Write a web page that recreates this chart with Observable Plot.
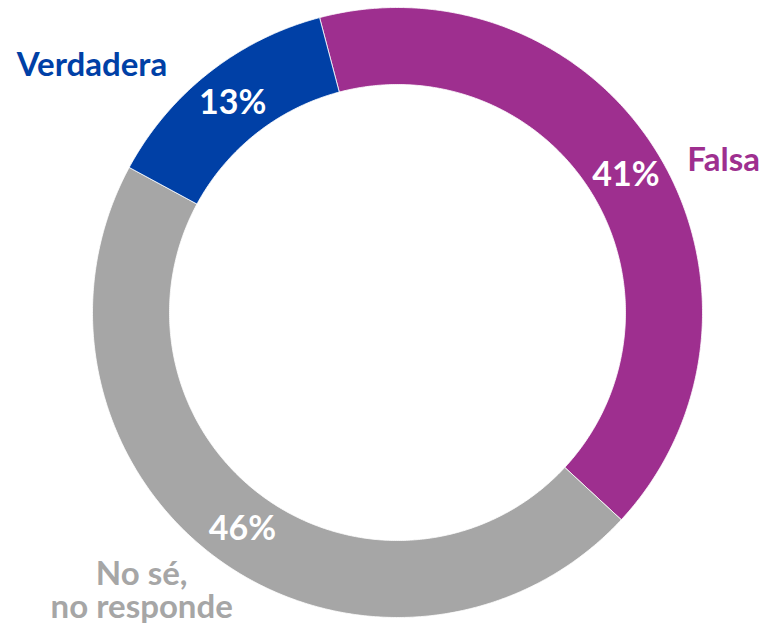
<!DOCTYPE html>
<html>
<head>
<meta charset="utf-8">
<script src="https://cdn.jsdelivr.net/npm/d3@7"></script>
<script src="https://cdn.jsdelivr.net/npm/@observablehq/plot@0.6"></script>
<style>
  html, body { margin: 0; padding: 0; background: #fff; }
  #chart svg { display: block; }
</style>
</head>
<body>
<div id="chart"></div>
<script>
// ---- data ----
const categories = ["Falsa", "No sé,\nno responde", "Verdadera"];
const values = [41, 46, 13];
const colors = ["#9E2F8F", "#A6A6A6", "#0040A6"];
const pctLabels = ["41%", "46%", "13%"];

// ---- layout (code, not data) ----
const startDeg = -14.8;          // first slice starts just left of 12 o'clock, clockwise
const innerRatio = 228 / 305;
const labelMidR = (1 + innerRatio) / 2;
const nameAngle = [65, 222.6, -51];
const nameRadius = [1.18, 1.239, 1.289];
const font = "Lato, 'Open Sans', sans-serif";

const total = d3.sum(values);
const rad = d => d * Math.PI / 180;
const polar = (deg, r) => ({ x: r * Math.sin(rad(deg)), y: r * Math.cos(rad(deg)) });

let acc = startDeg;
const slices = values.map((v, i) => {
  const a0 = acc, a1 = acc + 360 * v / total;
  acc = a1;
  return { cat: categories[i], a0, a1, mid: (a0 + a1) / 2, i };
});

const ringPts = [];
for (const s of slices) {
  const n = Math.max(8, Math.ceil((s.a1 - s.a0) * 2));
  const pts = [];
  for (let k = 0; k <= n; k++) pts.push(polar(s.a0 + (s.a1 - s.a0) * k / n, 1));
  for (let k = n; k >= 0; k--) pts.push(polar(s.a0 + (s.a1 - s.a0) * k / n, innerRatio));
  pts.push(pts[0]);
  for (const p of pts) ringPts.push({ ...p, cat: s.cat });
}

const pctData = slices.map(s => ({ ...polar(s.mid, labelMidR), text: pctLabels[s.i] }));
const nameData = slices.map(s => ({ ...polar(nameAngle[s.i], nameRadius[s.i]), text: s.cat, color: colors[s.i] }));

const chart = Plot.plot({
  width: 763,
  height: 626,
  marginLeft: 92,
  marginRight: 61,
  marginTop: 7,
  marginBottom: 9,
  x: { domain: [-1, 1], axis: null },
  y: { domain: [-1, 1], axis: null },
  color: { domain: categories, range: colors },
  style: { fontFamily: font, background: "#fff" },
  marks: [
    Plot.line(ringPts, { x: "x", y: "y", z: "cat", fill: "cat", stroke: "#fff", strokeWidth: 0.8, curve: "linear" }),
    Plot.text(pctData, { x: "x", y: "y", text: "text", fill: "#fff", fontSize: 34, fontWeight: "bold", fontFamily: font }),
    Plot.text(nameData, { x: "x", y: "y", text: "text", fill: "color", fontSize: 33, fontWeight: "bold", fontFamily: font, lineHeight: 1 })
  ]
});
document.getElementById("chart").appendChild(chart);
</script>
</body>
</html>
